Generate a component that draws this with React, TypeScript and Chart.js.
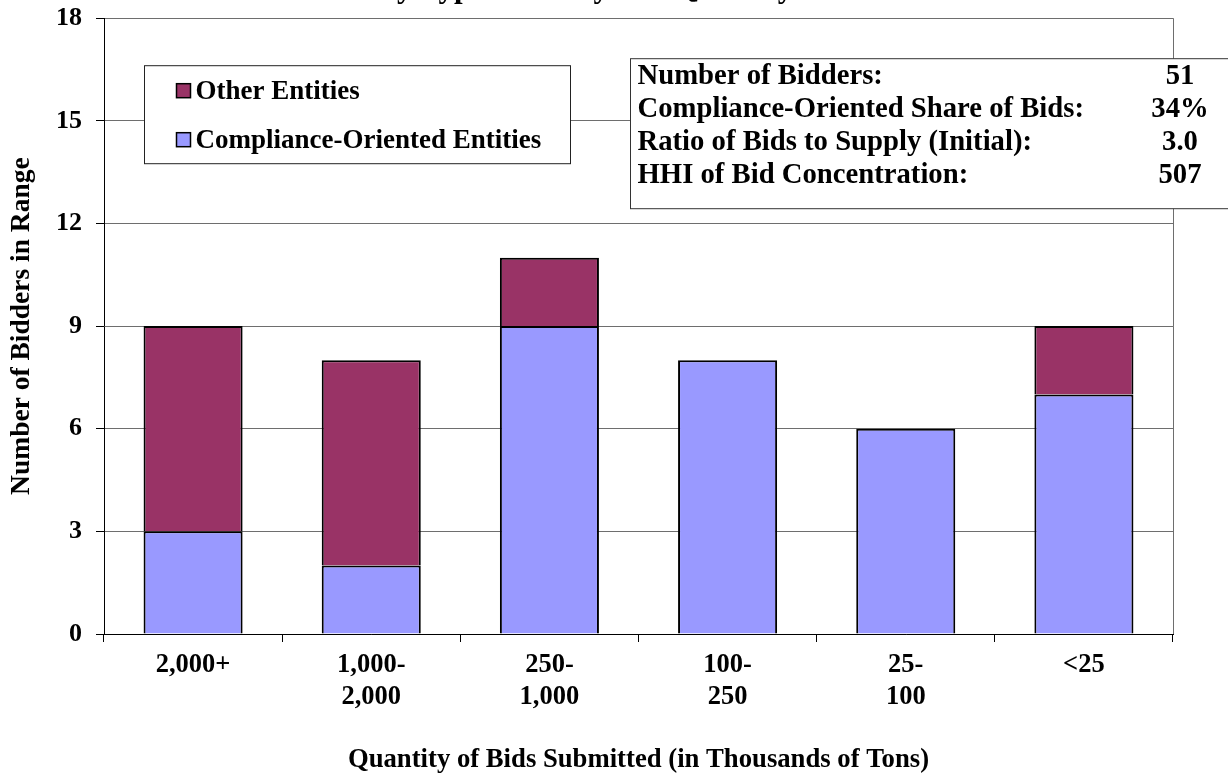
import React, { useEffect, useRef } from "react";
import { Chart, registerables } from "chart.js";

Chart.register(...registerables);

// ---- data ----
const categories: string[][] = [
  ["2,000+"],
  ["1,000-", "2,000"],
  ["250-", "1,000"],
  ["100-", "250"],
  ["25-", "100"],
  ["<25"],
];
const complianceOriented = [3, 2, 9, 8, 6, 7];
const otherEntities = [6, 6, 2, 0, 0, 2];
const yTicks = [0, 3, 6, 9, 12, 15, 18];
const statLabels = [
  "Number of Bidders:",
  "Compliance-Oriented Share of Bids:",
  "Ratio of Bids to Supply (Initial):",
  "HHI of Bid Concentration:",
];
const statValues = ["51", "34%", "3.0", "507"];
const chartTitle = "by Type of Entity and Quantity";
const xTitle = "Quantity of Bids Submitted (in Thousands of Tons)";
const yTitle = "Number of Bidders in Range";

const FAMILY = "'Liberation Serif', 'Times New Roman', serif";

const overlayPlugin = {
  id: "overlay",
  afterDraw(chart: any) {
    const { ctx, chartArea } = chart;
    const { left, top, right, bottom } = chartArea;
    ctx.save();
    // right border of plot area
    ctx.strokeStyle = "#6e6e6e";
    ctx.lineWidth = 1;
    ctx.beginPath();
    ctx.moveTo(Math.round(right) + 0.5, top);
    ctx.lineTo(Math.round(right) + 0.5, bottom);
    ctx.stroke();

    // legend box
    const lx = left + 40.5;
    const ly = top + 47.5;
    const lw = 426;
    const lh = 98;
    ctx.fillStyle = "#fff";
    ctx.fillRect(lx, ly, lw, lh);
    ctx.strokeStyle = "#222";
    ctx.strokeRect(lx, ly, lw, lh);
    const ds = chart.data.datasets.slice().reverse();
    ctx.font = `bold 27px ${FAMILY}`;
    ctx.textBaseline = "middle";
    ctx.textAlign = "left";
    ds.forEach((d: any, i: number) => {
      const cy = ly + 25 + i * 49;
      ctx.fillStyle = d.backgroundColor;
      ctx.fillRect(lx + 32, cy - 7, 14, 14);
      ctx.strokeStyle = "#000";
      ctx.lineWidth = 1.5;
      ctx.strokeRect(lx + 32, cy - 7, 14, 14);
      ctx.fillStyle = "#000";
      ctx.fillText(d.label, lx + 51, cy + 1);
    });

    // stats box
    const bx = left + 526.5;
    const by = top + 40.5;
    const bw = 700;
    const bh = 150;
    ctx.fillStyle = "#fff";
    ctx.fillRect(bx, by, bw, bh);
    ctx.strokeStyle = "#333";
    ctx.lineWidth = 1;
    ctx.strokeRect(bx, by, bw, bh);
    ctx.font = `bold 28.7px ${FAMILY}`;
    ctx.fillStyle = "#000";
    statLabels.forEach((lab, i) => {
      const cy = by + 18 + i * 33;
      ctx.textAlign = "left";
      ctx.fillText(lab, bx + 7, cy);
      ctx.textAlign = "center";
      ctx.fillText(statValues[i], left + 1076, cy);
    });
    ctx.restore();
  },
};

export default function App() {
  const ref = useRef<HTMLCanvasElement | null>(null);
  useEffect(() => {
    if (!ref.current) return;
    Chart.defaults.color = "#000";
    const chart = new Chart(ref.current, {
      type: "bar",
      data: {
        labels: categories,
        datasets: [
          {
            label: "Compliance-Oriented Entities",
            data: complianceOriented,
            backgroundColor: "#9999FF",
            borderColor: "#000",
            borderWidth: 2,
            stack: "s",
            barPercentage: 0.556,
            categoryPercentage: 1,
          },
          {
            label: "Other Entities",
            data: otherEntities,
            backgroundColor: "#993366",
            borderColor: "#000",
            borderWidth: 2,
            stack: "s",
            barPercentage: 0.556,
            categoryPercentage: 1,
          },
        ],
      },
      options: {
        responsive: false,
        animation: false,
        layout: { padding: { left: 0, right: 55, top: 0, bottom: 0 } },
        plugins: {
          legend: { display: false },
          tooltip: { enabled: false },
          title: {
            display: true,
            text: chartTitle,
            color: "#000",
            font: { size: 31, weight: "bold", family: FAMILY },
            padding: { top: 20, bottom: 11 },
          },
        },
        scales: {
          x: {
            stacked: true,
            afterFit: (s: any) => {
              s.height = 140;
            },
            grid: {
              display: true,
              drawOnChartArea: false,
              drawTicks: true,
              tickLength: 8,
              color: "#000",
              tickColor: "#000",
              offset: true,
            },
            border: { display: true, color: "#000", width: 1 },
            ticks: {
              color: "#000",
              padding: 7,
              maxRotation: 0,
              autoSkip: false,
              font: { size: 26.5, weight: "bold", family: FAMILY, lineHeight: 1.2 },
            },
            title: {
              display: true,
              text: xTitle,
              color: "#000",
              font: { size: 26.7, weight: "bold", family: FAMILY, lineHeight: 1 },
              padding: { top: 0, bottom: 1 },
            },
          },
          y: {
            stacked: true,
            min: 0,
            max: 18,
            afterFit: (s: any) => {
              s.width = 104;
            },
            afterBuildTicks: (s: any) => {
              s.ticks = yTicks.map((v) => ({ value: v }));
            },
            grid: {
              color: "#6e6e6e",
              lineWidth: 1,
              tickColor: "#000",
              tickLength: 8,
            },
            border: { display: true, color: "#000", width: 1 },
            ticks: {
              color: "#000",
              padding: 14,
              font: { size: 26, weight: "bold", family: FAMILY },
            },
            title: {
              display: true,
              text: yTitle,
              color: "#000",
              font: { size: 27.5, weight: "bold", family: FAMILY, lineHeight: 1 },
              padding: { top: 8, bottom: 0 },
            },
          },
        },
      },
      plugins: [overlayPlugin],
    } as any);
    return () => chart.destroy();
  }, []);

  return (
    <div style={{ position: "absolute", left: 0, top: -50, width: 1228, height: 824, overflow: "hidden" }}>
      <canvas ref={ref} width={1228} height={824} style={{ display: "block" }} />
    </div>
  );
}
